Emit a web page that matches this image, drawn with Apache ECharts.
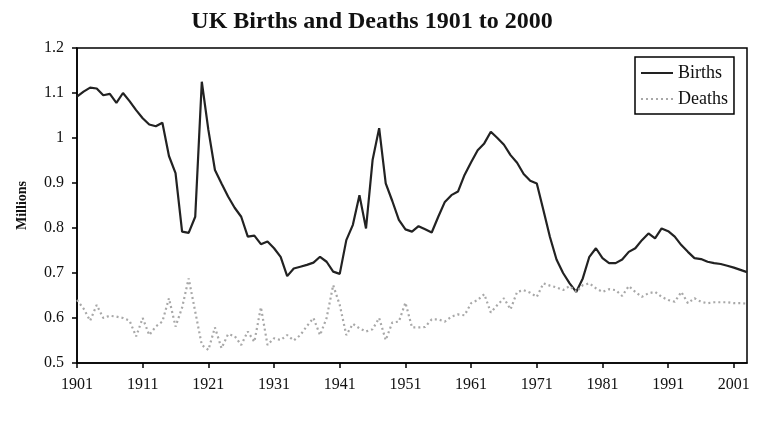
<html>
<head>
    <meta charset="utf-8">
    <script src="https://cdn.jsdelivr.net/npm/echarts@6/dist/echarts.min.js"></script>
    <title>UK Births and Deaths</title>
    <style>
        html, body { margin: 0; padding: 0; background: #fff; }
    </style>
</head>
<body>
    <div id="main" style="width: 766px; height: 427px;"></div>
    <script>
        // years 1901 .. 2003
        const years = [];
        for (let y = 1901; y <= 2003; y++) years.push(String(y));

        // millions
        const births = [
            1.092, 1.103, 1.112, 1.110, 1.095, 1.098, 1.078, 1.100, 1.082, 1.062,
            1.044, 1.030, 1.026, 1.034, 0.960, 0.922, 0.792, 0.789, 0.825, 1.125,
            1.018, 0.929, 0.899, 0.870, 0.845, 0.825, 0.781, 0.783, 0.764, 0.770,
            0.755, 0.736, 0.693, 0.710, 0.714, 0.718, 0.723, 0.736, 0.725, 0.703,
            0.698, 0.773, 0.807, 0.873, 0.799, 0.951, 1.022, 0.899, 0.860, 0.818,
            0.797, 0.792, 0.804, 0.797, 0.790, 0.825, 0.858, 0.873, 0.881, 0.918,
            0.946, 0.973, 0.988, 1.014, 1.000, 0.985, 0.962, 0.945, 0.920, 0.905,
            0.899, 0.840, 0.780, 0.730, 0.700, 0.677, 0.658, 0.688, 0.736, 0.755,
            0.733, 0.722, 0.722, 0.730, 0.747, 0.755, 0.773, 0.788, 0.777, 0.799,
            0.793, 0.781, 0.762, 0.747, 0.733, 0.731, 0.725, 0.722, 0.720, 0.716,
            0.712, 0.707, 0.702
        ];

        const deaths = [
            0.640, 0.621, 0.594, 0.629, 0.600, 0.605, 0.603, 0.600, 0.594, 0.559,
            0.600, 0.562, 0.581, 0.592, 0.644, 0.581, 0.623, 0.688, 0.614, 0.540,
            0.529, 0.579, 0.533, 0.564, 0.560, 0.540, 0.570, 0.547, 0.624, 0.540,
            0.555, 0.551, 0.562, 0.550, 0.562, 0.582, 0.600, 0.562, 0.600, 0.673,
            0.629, 0.562, 0.587, 0.577, 0.570, 0.575, 0.600, 0.551, 0.590, 0.592,
            0.634, 0.579, 0.579, 0.580, 0.597, 0.597, 0.592, 0.603, 0.608, 0.606,
            0.633, 0.640, 0.653, 0.612, 0.629, 0.644, 0.619, 0.658, 0.662, 0.656,
            0.647, 0.677, 0.672, 0.668, 0.662, 0.671, 0.658, 0.673, 0.677, 0.666,
            0.658, 0.664, 0.662, 0.649, 0.671, 0.658, 0.647, 0.655, 0.658, 0.647,
            0.640, 0.636, 0.658, 0.633, 0.644, 0.636, 0.633, 0.635, 0.635, 0.635,
            0.633, 0.633, 0.632
        ];

        const serif = '"Liberation Serif", "DejaVu Serif", serif';

        const myChart = echarts.init(document.getElementById('main'));
        myChart.setOption({
            backgroundColor: '#FFFFFF',
            animation: false,
            title: {
                text: 'UK Births and Deaths 1901 to 2000',
                left: 367,
                top: 5,
                textAlign: 'center',
                textStyle: { fontFamily: serif, fontSize: 24, fontWeight: 'bold', color: '#111' }
            },
            legend: {
                orient: 'vertical',
                left: 635,
                top: 57,
                padding: [7, 6, 6, 5],
                itemGap: 8,
                itemWidth: 32,
                itemHeight: 12,
                borderColor: '#000',
                borderWidth: 1.5,
                itemStyle: { opacity: 0 },
                textStyle: { fontFamily: serif, fontSize: 18, color: '#111' },
                data: ['Births', 'Deaths']
            },
            grid: {
                left: 77,
                right: 19,
                top: 48,
                bottom: 64,
                show: true,
                borderColor: '#000',
                borderWidth: 1.5
            },
            xAxis: {
                type: 'category',
                data: years,
                boundaryGap: false,
                axisLine: { lineStyle: { color: '#000', width: 1.5 } },
                axisTick: { interval: 9, length: 5, lineStyle: { color: '#000', width: 1.5 } },
                axisLabel: { interval: 9, margin: 14, fontFamily: serif, fontSize: 16, color: '#111' },
                splitLine: { show: false }
            },
            yAxis: {
                type: 'value',
                min: 0.5,
                max: 1.2,
                interval: 0.1,
                name: 'Millions',
                nameLocation: 'middle',
                nameGap: 48,
                nameTextStyle: { fontFamily: serif, fontSize: 14, fontWeight: 'bold', color: '#111' },
                axisLine: { show: true, lineStyle: { color: '#000', width: 1.5 } },
                axisTick: { show: true, length: 5, lineStyle: { color: '#000', width: 1.5 } },
                axisLabel: {
                    margin: 13, fontFamily: serif, fontSize: 16, color: '#111',
                    formatter: (v) => String(Math.round(v * 10) / 10)
                },
                splitLine: { show: false }
            },
            series: [{
                name: 'Births',
                type: 'line',
                data: births,
                symbol: 'none',
                itemStyle: { color: '#222' },
                lineStyle: { color: '#222', width: 2.2 }
            }, {
                name: 'Deaths',
                type: 'line',
                data: deaths,
                symbol: 'none',
                itemStyle: { color: '#a8a8a8' },
                lineStyle: { color: '#a8a8a8', width: 2.2, type: [2, 3] }
            }]
        });
    </script>
</body>
</html>
